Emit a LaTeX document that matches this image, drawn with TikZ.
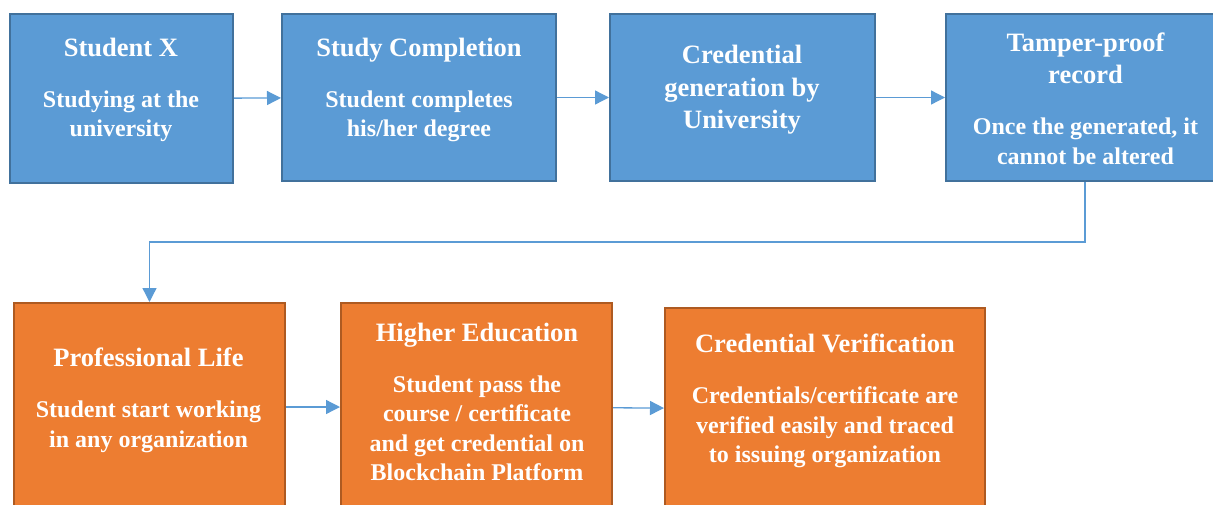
\documentclass[tikz,border=0pt]{standalone}
\usepackage{fontspec}
\setmainfont{Liberation Serif}[BoldFont={Liberation Serif Bold}]
\usetikzlibrary{arrows.meta}
\definecolor{uniblue}{HTML}{5B9BD5}
\definecolor{uniblueline}{HTML}{41719C}
\definecolor{joborange}{HTML}{ED7D31}
\definecolor{joborangeline}{HTML}{AE5A21}
\newcommand{\boxtitle}[1]{{\fontsize{26.5}{32}\selectfont #1}}
\begin{document}
\begin{tikzpicture}[x=1pt,y=-1pt]
	\tikzstyle{blue box}=[rectangle,draw=uniblueline,fill=uniblue,line width=2pt,inner sep=0pt]
	\tikzstyle{orange box}=[rectangle,draw=joborangeline,fill=joborange,line width=2pt,inner sep=0pt]
	\tikzstyle{box text}=[anchor=north,inner sep=0pt,align=center,text=white,font=\fontsize{24}{29.3}\selectfont\bfseries]
	\tikzstyle{flow}=[draw=uniblue,line width=1.3pt,-{Triangle[length=14pt,width=14pt]}]
	\useasboundingbox (0,0) rectangle (1213,504);
	\clip (0,0) rectangle (1213,504);
	% university side
	\node[blue box,minimum width=223pt,minimum height=169pt] (studying) at (121.5,98.5) {};
	\node[blue box,minimum width=274pt,minimum height=167pt] (completion) at (419,97.5) {};
	\node[blue box,minimum width=265pt,minimum height=167pt] (generation) at (742.5,97.5) {};
	\node[blue box,minimum width=278pt,minimum height=167pt] (record) at (1085,97.5) {};
	\node[box text] (studying text) at (121,38) {\boxtitle{Student X}\\[21.7pt]Studying at the\\university};
	\node[box text] (completion text) at (419,38) {\boxtitle{Study Completion}\\[21.7pt]Student completes\\his/her degree};
	\node[box text] (generation text) at (742,45) {\boxtitle{Credential}\\[3.2pt]\boxtitle{generation by}\\[3.2pt]\boxtitle{University}};
	\node[box text] (record text) at (1085.5,33) {\boxtitle{Tamper-proof}\\[2.7pt]\boxtitle{record}\\[21.7pt]Once the generated, it\\cannot be altered};
	% after graduation
	\node[orange box,minimum width=271pt,minimum height=208pt] (professional) at (149.5,407) {};
	\node[orange box,minimum width=271pt,minimum height=208pt] (higher) at (476.5,407) {};
	\node[orange box,minimum width=320pt,minimum height=202pt] (verification) at (825,409) {};
	\node[box text] (professional text) at (148.5,348) {\boxtitle{Professional Life}\\[21.7pt]Student start working\\in any organization};
	\node[box text] (higher text) at (477,323) {\boxtitle{Higher Education}\\[21.7pt]Student pass the\\course / certificate\\and get credential on\\Blockchain Platform};
	\node[box text] (verification text) at (825,334) {\boxtitle{Credential Verification}\\[21.7pt]Credentials/certificate are\\verified easily and traced\\to issuing organization};
	\coordinate (turn) at (149.5,242);
	\draw[flow] (studying) -- (completion);
	\draw[flow] (completion) -- (generation);
	\draw[flow] (generation) -- (record);
	\draw[flow] (record.south) |- (turn) -- (professional.north);
	\draw[flow] (professional) -- (higher);
	\draw[flow] (higher) -- (verification);
\end{tikzpicture}
\end{document}
